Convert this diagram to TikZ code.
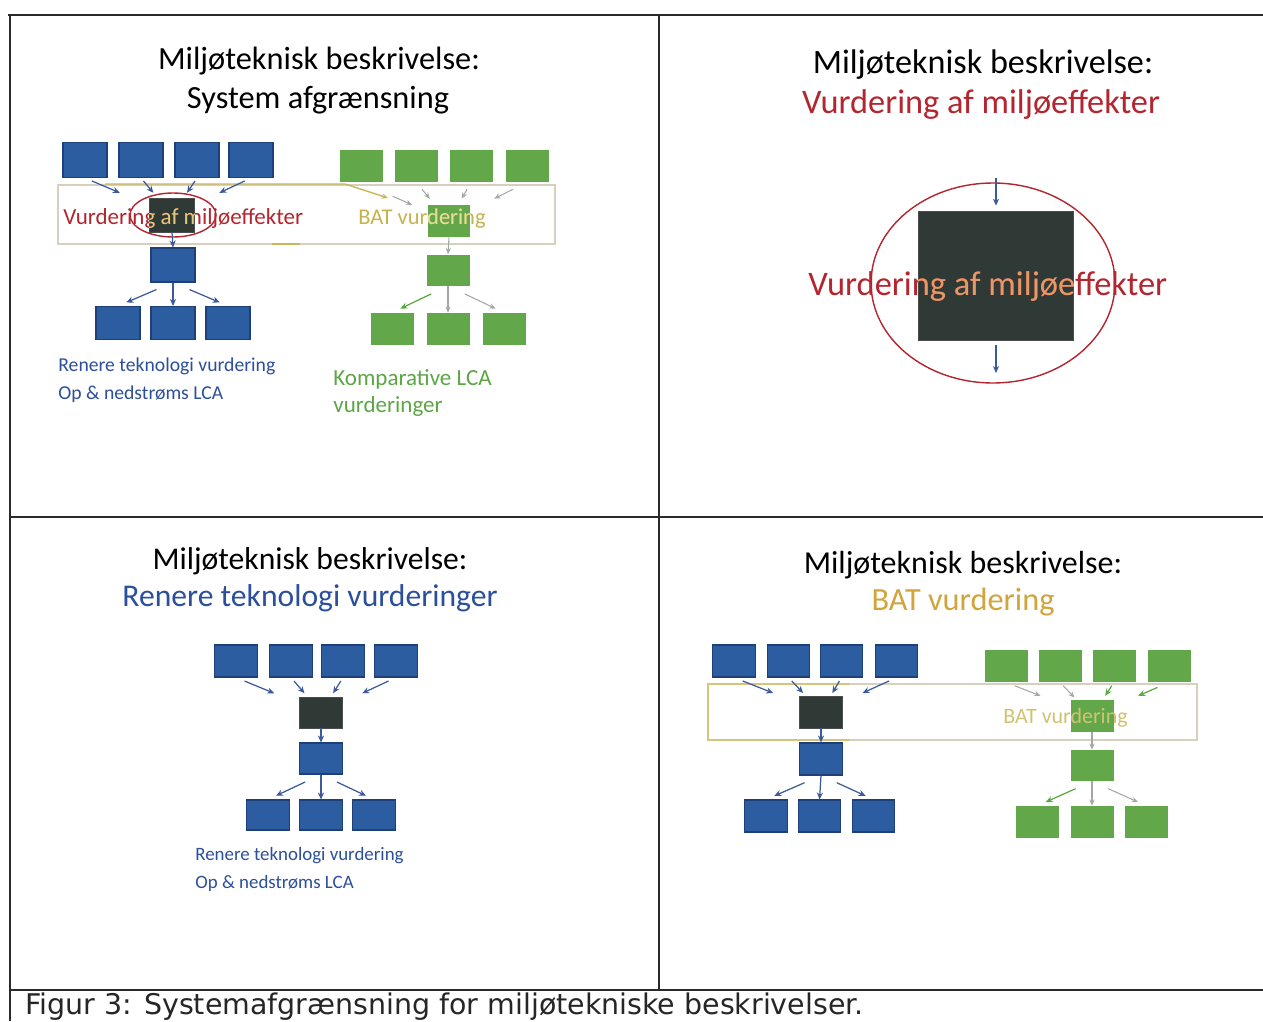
\documentclass[tikz,border=0pt]{standalone}
\usepackage{fontspec}
\setmainfont{Carlito}
\newfontfamily\capfont{DejaVu Sans}
\usetikzlibrary{arrows.meta,calc,shapes.geometric}
\definecolor{bblue}{HTML}{2D5DA1}
\definecolor{bbluedk}{HTML}{1F3F78}
\definecolor{ggreen}{HTML}{62A84A}
\definecolor{darkb}{HTML}{2F3935}
\definecolor{redt}{HTML}{B3262F}
\definecolor{khakit}{HTML}{C5B34E}
\definecolor{goldt}{HTML}{D0A53C}
\definecolor{bluet}{HTML}{2C4F9C}
\definecolor{greent}{HTML}{5CA646}
\definecolor{rectc}{HTML}{D6D1BE}
\definecolor{khakil}{HTML}{C9B65A}
\definecolor{arrblue}{HTML}{3A5A9C}
\definecolor{arrgreen}{HTML}{5DA845}
\definecolor{arrgray}{HTML}{A3A8A3}
\definecolor{framec}{HTML}{2A2A2A}
\definecolor{ovyellow}{HTML}{DCCB7A}
\definecolor{ovorange}{HTML}{E39A68}
\definecolor{ovlight}{HTML}{E6DD9A}
\begin{document}
\begin{tikzpicture}[x=0.02cm,y=-0.02cm,
  bbox/.style={fill=bblue,draw=bbluedk,line width=0.6pt,minimum width=0.85cm,minimum height=0.64cm,inner sep=0pt},
  bboxl/.style={bbox,minimum width=0.88cm,minimum height=0.70cm},
  gbox/.style={fill=ggreen,minimum width=0.86cm,minimum height=0.64cm,inner sep=0pt},
  dbox/.style={fill=darkb,draw=black!70,line width=0.4pt,minimum width=0.86cm,minimum height=0.64cm,inner sep=0pt},
  barr/.style={draw=arrblue,line width=0.7pt,-{Stealth[length=4pt,width=3.5pt]}},
  garr/.style={draw=arrgreen,line width=0.7pt,-{Stealth[length=4pt,width=3.5pt]}},
  farr/.style={draw=arrgray,line width=0.6pt,-{Stealth[length=3.5pt,width=3pt]}},
  frameline/.style={draw=framec,line width=1.1pt},
  titlefont/.style={font=\fontsize{18.4}{20}\selectfont,inner sep=0pt},
  smallfont/.style={font=\fontsize{11.2}{13}\selectfont,inner sep=0pt,anchor=west},
  midfont/.style={font=\fontsize{13.1}{15}\selectfont,inner sep=0pt,anchor=west},
  sysrect/.style={draw=rectc,line width=0.8pt,inner sep=0pt}]
\useasboundingbox (0,0) rectangle (1263,1021);
\fill[white] (0,0) rectangle (1263,1021);
% frame
\draw[frameline] (8,15) -- (1263,15);
\draw[frameline] (10,15) -- (10,1021);
\draw[frameline] (659,15) -- (659,990);
\draw[frameline] (10,517) -- (1263,517);
\draw[frameline] (10,990) -- (1263,990);
\node[font=\capfont\fontsize{16.2}{18}\selectfont,text=black!85,anchor=west,inner sep=0pt] (cap) at (25,1006.5) {Figur 3: Systemafgrænsning for miljøtekniske beskrivelser.};

% ================= Panel 1 =================
\node[titlefont] (p1t1) at (319,61) {Miljøteknisk beskrivelse:};
\node[titlefont] (p1t2) at (318,100) {System afgrænsning};
\node[sysrect,minimum width=9.94cm,minimum height=1.18cm] (sys1) at (306.5,214.5) {};
\coordinate (k1) at (105,184);
\coordinate (k2) at (345,184);
\coordinate (k3) at (388,198);
\draw[draw=khakil,line width=0.8pt,-{Stealth[length=3.5pt,width=3pt]}] (k1) -- (k2) -- (k3);
\draw[draw=khakil,line width=0.8pt] (272,244) -- (300,244);
\node[bboxl] (a1) at (85,160) {};
\node[bboxl] (a2) at (141,160) {};
\node[bboxl] (a3) at (197,160) {};
\node[bboxl] (a4) at (251,160) {};
\node[gbox] (ag1) at (361,166) {};
\node[gbox] (ag2) at (416,166) {};
\node[gbox] (ag3) at (471,166) {};
\node[gbox] (ag4) at (527,166) {};
\node[ellipse,draw=redt,fill=white,line width=0.8pt,minimum width=1.72cm,minimum height=0.88cm,inner sep=0pt] (ae) at (173,215) {};
\node[dbox,minimum width=0.9cm,minimum height=0.68cm] (ad) at (172,215) {};
\node[gbox,minimum width=0.84cm] (agi) at (449,221) {};
\node[midfont,text=redt] (av) at (63,218) {Vurdering af miljøeffekter};
\begin{scope}
\clip (ad.south west) rectangle (ad.north east);
\node[midfont,text=ovyellow] (avo) at (63,218) {Vurdering af miljøeffekter};
\end{scope}
\node[midfont,font=\fontsize{12.8}{15}\selectfont,text=khakit] (abat) at (358,219) {BAT vurdering};
\begin{scope}
\clip (agi.south west) rectangle (agi.north east);
\node[midfont,font=\fontsize{12.8}{15}\selectfont,text=ovlight] (abato) at (358,219) {BAT vurdering};
\end{scope}
\node[bboxl,minimum height=0.68cm] (am) at (173,265) {};
\node[gbox,minimum height=0.62cm] (agm) at (448,270) {};
\node[bboxl,minimum height=0.66cm] (ab1) at (118,323) {};
\node[bboxl,minimum height=0.66cm] (ab2) at (173,323) {};
\node[bboxl,minimum height=0.66cm] (ab3) at (228,323) {};
\node[gbox] (agb1) at (392,329) {};
\node[gbox] (agb2) at (448,329) {};
\node[gbox] (agb3) at (504,329) {};
\foreach \n in {a1,a2,a3,a4}{\draw[barr] ($(\n.south)!0.08!(ad.center)$) -- ($(\n.south)!0.40!(ad.center)$);}
\draw[farr] ($(ag1.south)!0.36!(agi.center)$) -- ($(ag1.south)!0.58!(agi.center)$);
\foreach \n in {ag2,ag3,ag4}{\draw[farr] ($(\n.south)!0.18!(agi.center)$) -- ($(\n.south)!0.42!(agi.center)$);}
\draw[barr] (ad.south) -- (am.north);
\draw[barr] ($(am.south)!0.3!(ab1.north)$) -- ($(am.south)!0.85!(ab1.north)$);
\draw[barr] (am.south) -- (ab2.north);
\draw[barr] ($(am.south)!0.3!(ab3.north)$) -- ($(am.south)!0.85!(ab3.north)$);
\draw[farr] (agi.south) -- (agm.north);
\draw[garr] ($(agm.south)!0.3!(agb1.north)$) -- ($(agm.south)!0.85!(agb1.north)$);
\draw[farr] (agm.south) -- (agb2.north);
\draw[farr] ($(agm.south)!0.3!(agb3.north)$) -- ($(agm.south)!0.85!(agb3.north)$);
\node[smallfont,text=bluet] (al1) at (58,366) {Renere teknologi vurdering};
\node[smallfont,text=bluet] (al2) at (58,394) {Op \& nedstrøms LCA};
\node[midfont,text=greent] (al3) at (333,379) {Komparative LCA};
\node[midfont,text=greent] (al4) at (333,406) {vurderinger};

% ================= Panel 2 =================
\node[titlefont,font=\fontsize{19.45}{21}\selectfont] (p2t1) at (983,65) {Miljøteknisk beskrivelse:};
\node[titlefont,font=\fontsize{19.55}{21}\selectfont,text=redt] (p2t2) at (981,105) {Vurdering af miljøeffekter};
\node[ellipse,draw=redt,fill=white,line width=0.8pt,minimum width=4.88cm,minimum height=4cm,inner sep=0pt] (be) at (993,283) {};
\node[dbox,minimum width=3.1cm,minimum height=2.58cm] (bd) at (996,275.5) {};
\coordinate (btop) at (996,178);
\coordinate (bbot) at (996,373);
\draw[barr,shorten >=0.1cm] (btop) -- (bd.north);
\draw[barr,shorten <=0.1cm] (bd.south) -- (bbot);
\node[titlefont,font=\fontsize{19.6}{21}\selectfont,text=redt,anchor=west] (bv) at (808,286) {Vurdering af miljøeffekter};
\begin{scope}
\clip (bd.south west) rectangle (bd.north east);
\node[titlefont,font=\fontsize{19.6}{21}\selectfont,text=ovorange,anchor=west] (bvo) at (808,286) {Vurdering af miljøeffekter};
\end{scope}

% ================= Panel 3 =================
\node[titlefont,font=\fontsize{18}{20}\selectfont] (p3t1) at (310,561) {Miljøteknisk beskrivelse:};
\node[titlefont,font=\fontsize{18}{20}\selectfont,text=bluet] (p3t2) at (310,598) {Renere teknologi vurderinger};
\node[bbox] (c1) at (236,661) {};
\node[bbox] (c2) at (291,661) {};
\node[bbox] (c3) at (343,661) {};
\node[bbox] (c4) at (396,661) {};
\node[dbox,minimum height=0.62cm] (cd) at (321,712.5) {};
\node[bbox,minimum height=0.62cm] (cm) at (321,758.5) {};
\node[bbox,minimum height=0.60cm] (cb1) at (268,815) {};
\node[bbox,minimum height=0.60cm] (cb2) at (321,815) {};
\node[bbox,minimum height=0.60cm] (cb3) at (374,815) {};
\foreach \n in {c1,c2,c3,c4}{\draw[barr] ($(\n.south)!0.10!(cd.center)$) -- ($(\n.south)!0.45!(cd.center)$);}
\draw[barr] (cd.south) -- (cm.north);
\draw[barr] ($(cm.south)!0.3!(cb1.north)$) -- ($(cm.south)!0.85!(cb1.north)$);
\draw[barr] (cm.south) -- (cb2.north);
\draw[barr] ($(cm.south)!0.3!(cb3.north)$) -- ($(cm.south)!0.85!(cb3.north)$);
\node[smallfont,font=\fontsize{10.75}{12}\selectfont,text=bluet] (cl1) at (195,856) {Renere teknologi vurdering};
\node[smallfont,font=\fontsize{10.75}{12}\selectfont,text=bluet] (cl2) at (195,883) {Op \& nedstrøms LCA};

% ================= Panel 4 =================
\node[titlefont,font=\fontsize{18.2}{20}\selectfont] (p4t1) at (963,565) {Miljøteknisk beskrivelse:};
\node[titlefont,text=goldt] (p4t2) at (963,602) {BAT vurdering};
\node[sysrect,minimum width=9.78cm,minimum height=1.12cm] (sys4) at (952.5,712) {};
\draw[draw=khakil!80,line width=0.8pt] (850,684) -- (708,684) -- (708,740) -- (850,740);
\node[bbox] (d1) at (734,661) {};
\node[bbox] (d2) at (788.5,661) {};
\node[bbox] (d3) at (841.5,661) {};
\node[bbox] (d4) at (896.5,661) {};
\node[gbox] (dg1) at (1006,666) {};
\node[gbox] (dg2) at (1060,666) {};
\node[gbox] (dg3) at (1114,666) {};
\node[gbox] (dg4) at (1169,666) {};
\node[dbox] (dd) at (821,712) {};
\node[gbox] (dgi) at (1092,716) {};
\node[midfont,font=\fontsize{12.5}{14}\selectfont,text=khakit!80] (dbat) at (1003,718) {BAT vurdering};
\node[bbox] (dm) at (821,759) {};
\node[gbox,minimum height=0.62cm] (dgm) at (1092,765.5) {};
\node[bbox] (db1) at (766,816) {};
\node[bbox] (db2) at (819.5,816) {};
\node[bbox] (db3) at (873.5,816) {};
\node[gbox] (dgb1) at (1037.5,822) {};
\node[gbox] (dgb2) at (1092,822) {};
\node[gbox] (dgb3) at (1146,822) {};
\foreach \n in {d1,d2,d3,d4}{\draw[barr] ($(\n.south)!0.10!(dd.center)$) -- ($(\n.south)!0.45!(dd.center)$);}
\draw[farr] ($(dg1.south)!0.1!(dgi.center)$) -- ($(dg1.south)!0.4!(dgi.center)$);
\draw[farr] ($(dg2.south)!0.1!(dgi.center)$) -- ($(dg2.south)!0.45!(dgi.center)$);
\draw[garr] ($(dg3.south)!0.1!(dgi.center)$) -- ($(dg3.south)!0.4!(dgi.center)$);
\draw[garr] ($(dg4.south)!0.15!(dgi.center)$) -- ($(dg4.south)!0.4!(dgi.center)$);
\draw[barr] (dd.south) -- (dm.north);
\draw[barr] ($(dm.south)!0.3!(db1.north)$) -- ($(dm.south)!0.85!(db1.north)$);
\draw[barr] (dm.south) -- (db2.north);
\draw[barr] ($(dm.south)!0.3!(db3.north)$) -- ($(dm.south)!0.85!(db3.north)$);
\draw[farr] (dgi.south) -- (dgm.north);
\draw[garr] ($(dgm.south)!0.3!(dgb1.north)$) -- ($(dgm.south)!0.85!(dgb1.north)$);
\draw[farr] (dgm.south) -- (dgb2.north);
\draw[farr] ($(dgm.south)!0.3!(dgb3.north)$) -- ($(dgm.south)!0.85!(dgb3.north)$);
\end{tikzpicture}
\end{document}
